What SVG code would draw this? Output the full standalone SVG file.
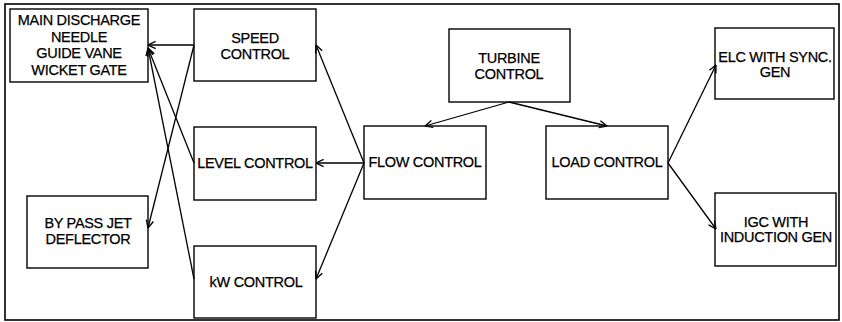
<svg xmlns="http://www.w3.org/2000/svg" width="842" height="322" viewBox="0 0 842 322">
  <defs>
    <style>
      .box { fill: #ffffff; stroke: #000000; stroke-width: 1.4; }
      .frame { fill: #ffffff; stroke: #000000; stroke-width: 1.6; }
      .lbl { font-family: "Liberation Sans", Arial, sans-serif; font-size: 14.5px; letter-spacing: -0.3px; fill: #000000; stroke: #000000; stroke-width: 0.25; text-anchor: middle; }
      .con { fill: none; stroke: #000000; stroke-width: 1.3; marker-end: url(#arr); }
    </style>
    <marker id="arr" viewBox="0 0 10 10" refX="9.5" refY="5" markerWidth="9" markerHeight="9" markerUnits="userSpaceOnUse" orient="auto">
      <path d="M1,1 L9.5,5 L1,9" fill="none" stroke="#000000" stroke-width="1.5"/>
    </marker>
  </defs>

  <!-- outer border -->
  <rect class="frame" x="5" y="4" width="834" height="316"/>

  <g id="main-discharge">
    <rect class="box" x="10" y="9" width="138" height="73"/>
    <text class="lbl" x="79" y="25">MAIN DISCHARGE</text>
    <text class="lbl" x="79" y="42">NEEDLE</text>
    <text class="lbl" x="79" y="58">GUIDE VANE</text>
    <text class="lbl" x="79" y="75">WICKET GATE</text>
  </g>

  <g id="bypass">
    <rect class="box" x="27" y="196" width="121" height="72"/>
    <text class="lbl" x="88" y="228">BY PASS JET</text>
    <text class="lbl" x="88" y="244">DEFLECTOR</text>
  </g>

  <g id="speed-control">
    <rect class="box" x="194" y="9" width="122" height="72"/>
    <text class="lbl" x="255" y="43">SPEED</text>
    <text class="lbl" x="255" y="59">CONTROL</text>
  </g>

  <g id="level-control">
    <rect class="box" x="194" y="127" width="122" height="73"/>
    <text class="lbl" x="255" y="168">LEVEL CONTROL</text>
  </g>

  <g id="kw-control">
    <rect class="box" x="194" y="246" width="122" height="72"/>
    <text class="lbl" x="256" y="287">kW CONTROL</text>
  </g>

  <g id="flow-control">
    <rect class="box" x="364" y="126" width="122" height="73"/>
    <text class="lbl" x="425" y="167">FLOW CONTROL</text>
  </g>

  <g id="turbine-control">
    <rect class="box" x="449" y="29" width="121" height="73"/>
    <text class="lbl" x="509" y="63">TURBINE</text>
    <text class="lbl" x="509" y="79">CONTROL</text>
  </g>

  <g id="load-control">
    <rect class="box" x="546" y="126" width="122" height="73"/>
    <text class="lbl" x="607" y="167">LOAD CONTROL</text>
  </g>

  <g id="elc">
    <rect class="box" x="715" y="28" width="119" height="71"/>
    <text class="lbl" x="775" y="62">ELC WITH SYNC.</text>
    <text class="lbl" x="775" y="77">GEN</text>
  </g>

  <g id="igc">
    <rect class="box" x="715" y="193" width="121" height="73"/>
    <text class="lbl" x="776" y="227">IGC WITH</text>
    <text class="lbl" x="776" y="242">INDUCTION GEN</text>
  </g>

  <g id="connectors">
    <line class="con" x1="509" y1="102" x2="425" y2="126"/>
    <line class="con" x1="509" y1="102" x2="607" y2="126"/>
    <line class="con" x1="668" y1="163" x2="716" y2="65"/>
    <line class="con" x1="668" y1="163" x2="716" y2="229"/>
    <line class="con" x1="364" y1="163" x2="316" y2="45"/>
    <line class="con" x1="364" y1="163" x2="316" y2="163"/>
    <line class="con" x1="364" y1="163" x2="316" y2="279"/>
    <line class="con" x1="194" y1="45" x2="148" y2="45"/>
    <line class="con" x1="194" y1="163" x2="148" y2="48"/>
    <line class="con" x1="194" y1="279" x2="148" y2="48"/>
    <line class="con" x1="194" y1="45" x2="148" y2="228"/>
  </g>
</svg>
